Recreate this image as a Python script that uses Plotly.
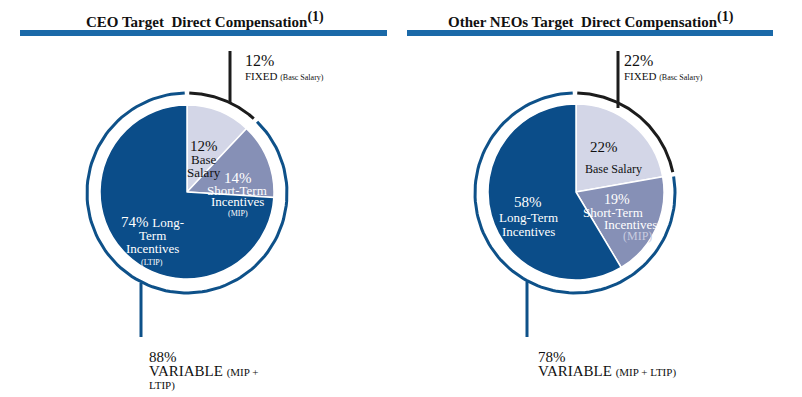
import numpy as np
import plotly.graph_objects as go

W, H = 802, 397

# ---------------- data ----------------
segments = ["Base Salary", "Short-Term Incentives (MIP)", "Long-Term Incentives (LTIP)"]
ceo_values = [12, 14, 74]
neo_values = [22, 19, 58]
ceo_split = [12, 88]   # fixed, variable
neo_split = [22, 78]
titles = ["CEO Target  Direct Compensation", "Other NEOs Target  Direct Compensation"]

# ---------------- style ----------------
SERIF = "Liberation Serif"
slice_colors = ["#D3D6E7", "#8690B6", "#0B4D89"]
ring_fixed = "#1c1c1c"
ring_var = "#0E5189"
bar_blue = "#1A69A8"

panels = [
    dict(values=ceo_values, split=ceo_split, title=titles[0], cx=187, cy=192, r=87,
         rcx=187, rcy=193, rr=100, tx=205),
    dict(values=neo_values, split=neo_split, title=titles[1], cx=576, cy=192, r=88,
         rcx=575, rcy=193, rr=100, tx=591),
]

fig = go.Figure()
annotations = []
shapes = []


def arc(cx, cy, r, a0, a1, n=120):
    th = np.radians(np.linspace(a0, a1, n))
    return cx + r * np.sin(th), cy - r * np.cos(th)


for p in panels:
    cx, cy, r = p["cx"], p["cy"], p["r"]
    fig.add_trace(go.Pie(
        labels=segments, values=p["values"], sort=False, direction="clockwise",
        rotation=0, textinfo="none", hoverinfo="label+percent", showlegend=False,
        marker=dict(colors=slice_colors, line=dict(color="white", width=1.5)),
        domain=dict(x=[(cx - r) / W, (cx + r) / W],
                    y=[1 - (cy + r) / H, 1 - (cy - r) / H]),
    ))
    # outer ring arcs from fixed / variable split
    fixed_deg = 360 * p["split"][0] / sum(p["split"])
    gap = 1.3
    for (a0, a1, col) in [(gap, fixed_deg - gap, ring_fixed), (fixed_deg + gap, 360 - gap, ring_var)]:
        xs, ys = arc(p["rcx"], p["rcy"], p["rr"], a0, a1)
        fig.add_trace(go.Scatter(x=xs, y=ys, mode="lines", line=dict(color=col, width=3),
                                 hoverinfo="skip", showlegend=False))
    # title
    annotations.append(dict(x=p["tx"], y=19, xref="x", yref="y", showarrow=False,
                            text="<b>" + p["title"] + "</b><sup><b><span style='font-size:14px'>(1)</span></b></sup>",
                            font=dict(family=SERIF, size=15, color="#111")))

# title underline bars
shapes.append(dict(type="rect", xref="x", yref="y", x0=20, x1=387, y0=30, y1=36,
                   fillcolor=bar_blue, line=dict(width=0)))
shapes.append(dict(type="rect", xref="x", yref="y", x0=407, x1=773, y0=30, y1=36,
                   fillcolor=bar_blue, line=dict(width=0)))

# callout lines
shapes.append(dict(type="line", xref="x", yref="y", x0=230, x1=230, y0=51, y1=103,
                   line=dict(color=ring_fixed, width=3)))
shapes.append(dict(type="line", xref="x", yref="y", x0=618, x1=618, y0=51, y1=108,
                   line=dict(color=ring_fixed, width=3)))
shapes.append(dict(type="line", xref="x", yref="y", x0=141, x1=141, y0=283, y1=337,
                   line=dict(color=ring_var, width=3)))
shapes.append(dict(type="line", xref="x", yref="y", x0=527, x1=527, y0=282, y1=337,
                   line=dict(color=ring_var, width=3)))


def txt(x, y, text, size, color="#111", anchor="left"):
    annotations.append(dict(x=x, y=y, xref="x", yref="y", text=text, showarrow=False,
                            xanchor=anchor, yanchor="middle",
                            font=dict(family=SERIF, size=size, color=color)))


# callout texts
txt(243, 60, f"{ceo_split[0]}%", 16)
txt(243, 76, "FIXED <span style='font-size:8px'>(Basc Salary)</span>", 11)
txt(147, 357, f"{ceo_split[1]}%", 15)
txt(147, 371, "VARIABLE <span style='font-size:11px'>(MIP +</span>", 15)
txt(147, 385, "<span style='font-size:11px'>LTIP)</span>", 15)

txt(622, 60, f"{neo_split[0]}%", 16)
txt(622, 76, "FIXED <span style='font-size:8px'>(Basc Salary)</span>", 11)
txt(536, 357, f"{neo_split[1]}%", 15)
txt(536, 371, "VARIABLE <span style='font-size:11px'>(MIP + LTIP)</span>", 15)

# slice labels - CEO
txt(204, 146, f"{ceo_values[0]}%", 15, anchor="center")
txt(204, 159, "Base", 13, anchor="center")
txt(204, 172, "Salary", 13, anchor="center")
txt(238, 178, f"{ceo_values[1]}%", 15, "white", "center")
txt(237, 190, "Short-Term", 13, "white", "center")
txt(237, 201, "Incentives", 13, "white", "center")
txt(238, 213, "(MIP)", 8, "white", "center")
txt(152, 222, f"{ceo_values[2]}% <span style='font-size:13px'>Long-</span>", 15, "white", "center")
txt(152, 235, "Term", 13, "white", "center")
txt(152, 248, "Incentives", 13, "white", "center")
txt(152, 262, "(LTIP)", 8, "white", "center")

# slice labels - NEO
txt(604, 147, f"{neo_values[0]}%", 15, anchor="center")
txt(613, 169, "Base Salary", 12, anchor="center")
txt(617, 199, f"{neo_values[1]}%", 14, "white", "center")
txt(613, 212, "Short-Term", 13, "white", "center")
txt(630, 224, "Incentives", 13, "white", "center")
txt(637, 236, "(MIP)", 12, "#C9CCE0", "center")
txt(528, 202, f"{neo_values[2]}%", 15, "white", "center")
txt(528, 217, "Long-Term", 13, "white", "center")
txt(528, 231, "Incentives", 13, "white", "center")

fig.update_layout(
    width=W, height=H, margin=dict(l=0, r=0, t=0, b=0),
    paper_bgcolor="white", plot_bgcolor="white",
    xaxis=dict(range=[0, W], visible=False, fixedrange=True),
    yaxis=dict(range=[H, 0], visible=False, fixedrange=True),
    annotations=annotations, shapes=shapes,
)

fig.write_html("out.html", config={"displayModeBar": False},
               post_script="document.body.style.margin='0';document.body.style.padding='0';")
